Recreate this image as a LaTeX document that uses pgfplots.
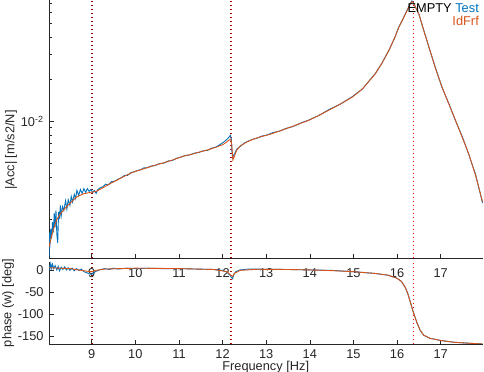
\documentclass[border=0pt]{standalone}
\usepackage{pgfplots}
\pgfplotsset{compat=1.18}
\usepackage{fontspec}
\setmainfont{Liberation Sans}
\definecolor{mblue}{rgb}{0,0.447,0.741}
\definecolor{morange}{rgb}{0.85,0.325,0.098}
\definecolor{axgray}{rgb}{0.15,0.15,0.15}
\definecolor{mred}{rgb}{1,0,0}
\definecolor{dred}{rgb}{0.5,0,0}
\definecolor{ddred}{rgb}{0.72,0,0}
\begin{document}
\fontsize{12.8bp}{14bp}\selectfont
\begin{tikzpicture}
\path[use as bounding box] (0,0) rectangle (484bp,372bp);
\pgfplotsset{every axis/.append style={
  scale only axis, width=434bp, xmin=8.02, xmax=17.97,
  axis x line*=bottom, axis y line*=left,
  axis line style={axgray, line width=0.6bp},
  tick align=inside, tick style={axgray, line width=0.6bp},
  major tick length=4.5bp, minor tick length=2.5bp,
  xtick={9,10,11,12,13,14,15,16,17},
  /pgf/number format/assume math mode=true,
  ticklabel style={font=\fontsize{12.8bp}{14bp}\selectfont, text=axgray},
  clip=true}}
\pgfplotsset{vdot/.style={line width=1.3bp, dash pattern=on 1.4bp off 2.6bp, forget plot}}

% ---------------- magnitude ----------------
\begin{axis}[at={(49bp,114bp)}, anchor=south west, height=258bp,
  ymode=log, ymin=1.05e-3, ymax=7.4e-2,
  ytick={0.01}, yticklabels={10\textsuperscript{-2}},
  minor ytick={2e-3,3e-3,4e-3,5e-3,6e-3,7e-3,8e-3,9e-3,2e-2,3e-2,4e-2,5e-2,6e-2,7e-2},
  xticklabel style={yshift=-6bp}, yticklabel style={xshift=-1bp}]
\addplot[vdot, dred, line width=1.7bp] coordinates {(9.0,1.05e-3) (9.0,7.4e-2)};
\addplot[vdot, ddred, line width=1.7bp] coordinates {(12.2,1.05e-3) (12.2,7.4e-2)};
\addplot[vdot, mred] coordinates {(16.37,1.05e-3) (16.37,7.4e-2)};
\addplot[mblue, line width=0.9bp] coordinates {
(8.02,1.05e-3)(8.03,1.6e-3)(8.04,1.25e-3)(8.06,1.7e-3)(8.08,1.45e-3)(8.1,1.9e-3)
(8.12,1.6e-3)(8.14,2.2e-3)(8.16,1.75e-3)(8.18,2.3e-3)(8.2,1.55e-3)(8.22,1.35e-3)
(8.24,2.25e-3)(8.26,2.0e-3)(8.28,2.5e-3)(8.3,2.1e-3)(8.33,2.45e-3)(8.36,2.3e-3)
(8.4,2.7e-3)(8.43,2.35e-3)(8.46,2.75e-3)(8.5,2.5e-3)(8.53,2.9e-3)(8.56,2.65e-3)
(8.6,3.0e-3)(8.63,2.8e-3)(8.66,3.2e-3)(8.7,2.95e-3)(8.74,3.25e-3)(8.78,3.05e-3)
(8.82,3.3e-3)(8.86,3.1e-3)(8.9,3.3e-3)(8.94,3.15e-3)(8.98,3.25e-3)(9.02,3.1e-3)
(9.06,3.2e-3)(9.1,3.05e-3)(9.14,3.25e-3)(9.2,3.35e-3)(9.26,3.4e-3)(9.32,3.55e-3)
(9.38,3.5e-3)(9.45,3.7e-3)(9.52,3.72e-3)(9.6,3.85e-3)(9.68,3.95e-3)(9.75,4.1e-3)
(9.82,4.1e-3)(9.9,4.3e-3)(9.98,4.35e-3)(10.05,4.45e-3)(10.12,4.5e-3)(10.2,4.65e-3)
(10.28,4.65e-3)(10.35,4.78e-3)(10.45,4.82e-3)(10.55,4.98e-3)(10.65,5.02e-3)
(10.75,5.2e-3)(10.85,5.25e-3)(10.95,5.45e-3)(11.05,5.55e-3)(11.15,5.7e-3)
(11.25,5.75e-3)(11.35,5.92e-3)(11.45,5.98e-3)(11.55,6.15e-3)(11.65,6.2e-3)
(11.75,6.42e-3)(11.85,6.55e-3)(11.95,6.85e-3)(12.05,7.2e-3)(12.12,7.55e-3)
(12.18,7.95e-3)(12.2,7.4e-3)(12.215,6.0e-3)(12.23,5.5e-3)(12.25,5.7e-3)
(12.28,5.9e-3)(12.33,6.35e-3)(12.4,6.6e-3)(12.5,7.0e-3)(12.6,7.25e-3)(12.7,7.45e-3)
(12.8,7.6e-3)(12.9,7.85e-3)(13.0,7.95e-3)(13.15,8.3e-3)(13.3,8.5e-3)(13.45,8.9e-3)
(13.6,9.15e-3)(13.8,9.75e-3)(13.97,1.02e-2)(14.2,1.1e-2)(14.43,1.21e-2)(14.7,1.33e-2)
(14.97,1.5e-2)(15.2,1.7e-2)(15.5,2.2e-2)(15.65,2.6e-2)(15.81,3.22e-2)(15.95,4.0e-2)
(16.04,4.75e-2)(16.12,5.3e-2)(16.19,5.9e-2)(16.25,6.45e-2)(16.3,6.95e-2)(16.34,7.3e-2)
(16.37,7.15e-2)(16.43,6.5e-2)(16.5,5.85e-2)(16.6,4.62e-2)(16.73,3.4e-2)(16.88,2.42e-2)
(17.03,1.75e-2)(17.2,1.31e-2)(17.34,1.01e-2)(17.5,7.7e-3)(17.64,5.85e-3)(17.8,4.15e-3)
(17.96,2.6e-3)};
\addplot[morange, line width=0.9bp] coordinates {
(8.02,1.26e-3)(8.1,1.6e-3)(8.19,1.96e-3)(8.3,2.22e-3)(8.42,2.44e-3)(8.55,2.68e-3)
(8.65,2.87e-3)(8.8,3.02e-3)(8.97,3.1e-3)(9.1,3.15e-3)(9.2,3.27e-3)(9.4,3.55e-3)
(9.58,3.79e-3)(9.75,4.05e-3)(9.95,4.33e-3)(10.15,4.53e-3)(10.33,4.72e-3)(10.5,4.9e-3)
(10.72,5.12e-3)(10.9,5.35e-3)(11.09,5.62e-3)(11.3,5.82e-3)(11.48,6.04e-3)(11.7,6.3e-3)
(11.86,6.55e-3)(12.0,6.8e-3)(12.09,7.1e-3)(12.15,7.35e-3)(12.19,7.45e-3)(12.21,6.8e-3)
(12.235,5.3e-3)(12.26,5.5e-3)(12.32,6.2e-3)(12.4,6.65e-3)(12.55,7.1e-3)(12.7,7.45e-3)
(12.86,7.73e-3)(13.1,8.1e-3)(13.31,8.53e-3)(13.6,9.2e-3)(13.97,1.016e-2)(14.2,1.1e-2)
(14.43,1.2e-2)(14.7,1.33e-2)(14.97,1.49e-2)(15.2,1.7e-2)(15.5,2.19e-2)(15.65,2.6e-2)
(15.81,3.21e-2)(15.95,4.0e-2)(16.04,4.72e-2)(16.12,5.3e-2)(16.19,5.87e-2)(16.25,6.4e-2)
(16.3,6.93e-2)(16.34,7.2e-2)(16.37,7.1e-2)(16.43,6.5e-2)(16.5,5.87e-2)(16.6,4.6e-2)
(16.73,3.4e-2)(16.88,2.4e-2)(17.03,1.76e-2)(17.2,1.3e-2)(17.34,1.016e-2)(17.5,7.6e-3)
(17.64,5.88e-3)(17.8,4.1e-3)(17.96,2.65e-3)};
\node[anchor=north east, inner sep=0pt, align=right, font=\fontsize{12.8bp}{13.5bp}\selectfont]
  at (rel axis cs:1,1) [xshift=-4bp, yshift=-3bp]
  {EMPTY \textcolor{mblue}{Test}\\\textcolor{morange}{IdFrf}};
\end{axis}

% ---------------- phase ----------------
\begin{axis}[at={(49bp,28bp)}, anchor=south west, height=82bp,
  ymin=-168, ymax=18, ytick={-150,-100,-50,0},
  xticklabel style={yshift=-1bp}, yticklabel style={xshift=-1bp}]
\addplot[vdot, dred, line width=1.7bp] coordinates {(9.0,-168) (9.0,18)};
\addplot[vdot, ddred, line width=1.7bp] coordinates {(12.2,-168) (12.2,18)};
\addplot[vdot, mred] coordinates {(16.37,-168) (16.37,18)};
\addplot[mblue, line width=0.9bp] coordinates {
(8.02,12)(8.04,2)(8.06,14)(8.08,4)(8.1,13)(8.13,3)(8.16,10)(8.2,0)(8.23,8)(8.26,-2)
(8.3,6)(8.34,1)(8.38,7)(8.42,0)(8.46,5)(8.5,-1)(8.55,4)(8.6,-2)(8.65,3)(8.7,-1)
(8.76,2)(8.82,-4)(8.88,-6)(8.94,-9)(9.0,-10)(9.05,-6)(9.1,-3)(9.2,1)(9.3,3)(9.4,1)
(9.5,4)(9.6,2)(9.8,4)(10,3)(10.3,4)(10.6,3)(11,3)(11.4,2)(11.8,1)(12.0,-1)(12.1,-5)
(12.17,-12)(12.2,-17)(12.23,-20)(12.26,-10)(12.3,-4)(12.4,0)(12.6,2)(13,1.5)(13.5,1)
(14,0)(14.5,-1)(15,-4)(15.5,-8)(15.8,-12)(16.0,-19)(16.1,-26)(16.19,-40)(16.25,-55)
(16.3,-72)(16.37,-95)(16.46,-121)(16.53,-137)(16.61,-148)(16.75,-155)(17.0,-160)
(17.3,-164)(17.6,-166)(17.96,-168)};
\addplot[morange, line width=0.9bp] coordinates {
(8.02,5)(8.5,3)(8.9,-3)(9.0,-4)(9.1,-1)(9.3,2)(10,4)(11,3)(11.8,1)(12.1,-4)(12.2,-13)
(12.23,-15)(12.27,-8)(12.4,-1)(12.8,1.5)(13.5,1)(14,0)(14.5,-1.5)(15,-4)(15.5,-8)
(15.8,-12)(16.0,-19)(16.1,-26)(16.19,-40)(16.25,-55)(16.3,-72)(16.37,-95)(16.46,-121)
(16.53,-137)(16.61,-148)(16.75,-155)(17.0,-160)(17.3,-164)(17.6,-166)(17.96,-168)};
\end{axis}

\node[rotate=90, text=axgray] at (11bp,222bp) {|Acc| [m/s2/N]};
\node[rotate=90, text=axgray] at (8bp,69bp) {phase (w) [deg]};
\node[anchor=base, text=axgray] at (265.7bp,2bp) {Frequency [Hz]};
\end{tikzpicture}
\end{document}
